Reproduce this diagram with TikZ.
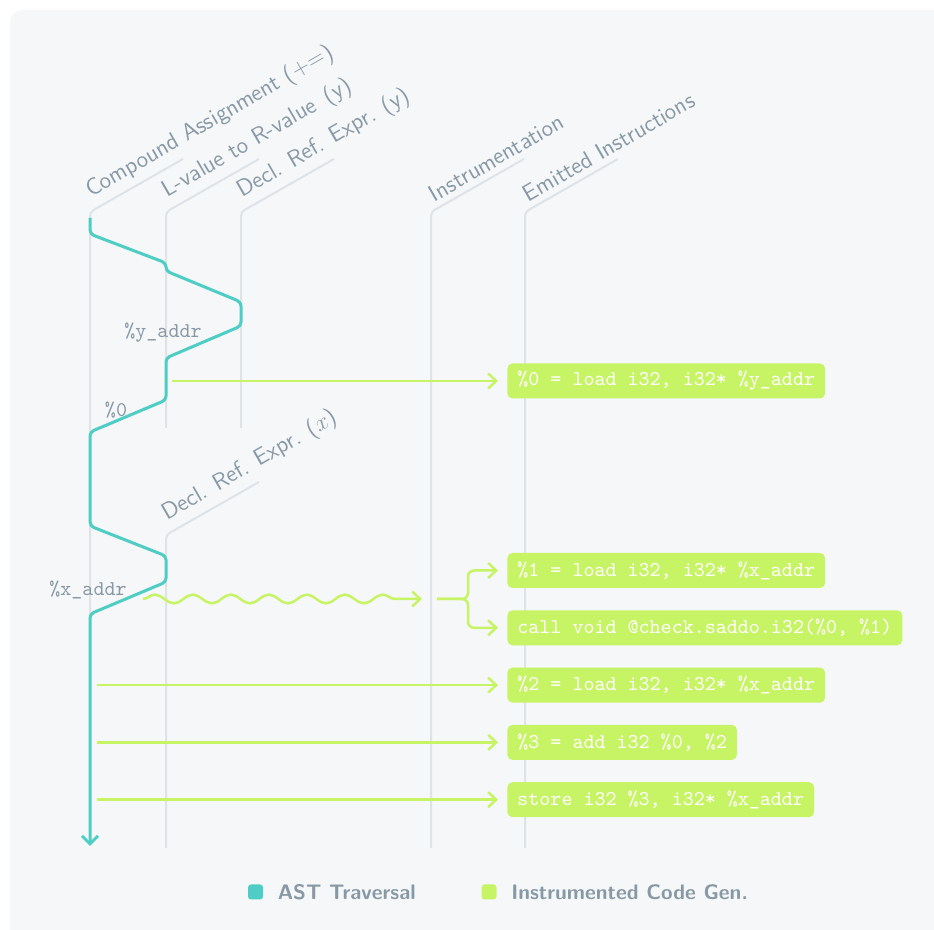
\documentclass[tikz,border=0pt]{standalone}
\usetikzlibrary{positioning, arrows.meta, decorations.pathmorphing}
\definecolor{bgcol}{HTML}{F5F7F9}
\definecolor{lifecol}{HTML}{DEE3E7}
\definecolor{labcol}{HTML}{8899A6}
\definecolor{astcol}{HTML}{4ECDC4}
\definecolor{gencol}{HTML}{C7F464}
\begin{document}
\begin{tikzpicture}[x=0.5pt, y=-0.5pt,
     node distance = 10.75pt and 7pt,
   lifeline/.style = {draw=lifecol, line width=1pt, rounded corners=2pt},
       head/.style = {rotate=30, anchor=south west, inner sep=4pt, text=labcol,
                      font=\fontsize{11.7}{13}\selectfont\sffamily},
        ast/.style = {draw=astcol, line width=1.5pt, rounded corners=2pt,
                      -{Straight Barb[length=4pt,width=8pt]}},
        gen/.style = {draw=gencol, line width=1.25pt, shorten >=4.5pt,
                      -{Straight Barb[length=4pt,width=7.5pt]}},
       code/.style = {rectangle, rounded corners=2.5pt, fill=gencol, text=white,
                      minimum height=17.5pt, inner xsep=5pt, inner ysep=0pt, anchor=west,
                      font=\fontsize{10.5}{12}\selectfont\ttfamily},
        val/.style = {text=labcol, inner sep=1pt, font=\fontsize{10.5}{12}\selectfont\ttfamily},
     swatch/.style = {rectangle, rounded corners=1.5pt, minimum size=7.5pt, inner sep=0pt},
     legend/.style = {inner sep=0pt, text=labcol,
                      font=\fontsize{10.5}{12}\selectfont\sffamily\bfseries}
                    ]
\useasboundingbox (0,0) rectangle (934,930);
\fill[bgcol, rounded corners=6pt] (10,10) rectangle (960,960);

\draw[lifeline] (90,845) -- (90,212) -- ++(93,-53);
\draw[lifeline] (166,428) -- (166,212) -- ++(93,-53);
\draw[lifeline] (241,428) -- (241,212) -- ++(93,-53);
\draw[lifeline] (166,848) -- (166,535) -- ++(93,-53);
\draw[lifeline] (431,848) -- (431,212) -- ++(93,-53);
\draw[lifeline] (525,848) -- (525,212) -- ++(93,-53);
\node (hCmp)   [head] at (91,214)  {Compound Assignment (+=)};
\node (hLval)  [head] at (167,214) {L-value to R-value~\,(y)};
\node (hDeclY) [head] at (242,214) {Decl. Ref. Expr. (y)};
\node (hDeclX) [head] at (167,537) {Decl. Ref. Expr. ($x$)};
\node (hInstr) [head] at (432,214) {Instrumentation};
\node (hEmit)  [head] at (526,214) {Emitted Instructions};

\draw[ast] (90,218) -- (90,234) -- (166,263) -- (166,271) -- (241,302) -- (241,326)
   -- (166,358) -- (166,400) -- (90,432) -- (90,526) -- (166,556) -- (166,582)
   -- (90,614) -- (90,846);
\node (vY)  [val] at (163,333) {\%y\_addr};
\node (v0)  [val] at (116,410) {\%0};
\node (vX)  [val] at (88,590)  {\%x\_addr};

\node (c0) [code] at (507,381) {\%0 = load i32, i32* \%y\_addr};
\node (c1) [code] at (507,570.5) {\%1 = load i32, i32* \%x\_addr};
\node (c2) [code, below=of c1.south west, anchor=north west] {call void @check.saddo.i32(\%0, \%1)};
\node (c3) [code, below=of c2.south west, anchor=north west] {\%2 = load i32, i32* \%x\_addr};
\node (c4) [code, below=of c3.south west, anchor=north west] {\%3 = add i32 \%0, \%2};
\node (c5) [code, below=of c4.south west, anchor=north west] {store i32 \%3, i32* \%x\_addr};

\coordinate (g0) at (172,381);
\coordinate (w0) at (143,599);
\coordinate (w1) at (431,599);
\coordinate (fk) at (437,599);
\coordinate (br) at (468,599);
\coordinate (g3) at (97,0 |- c3.west);
\coordinate (g4) at (97,0 |- c4.west);
\coordinate (g5) at (97,0 |- c5.west);
\draw[gen] (g0) -- (c0.west);
\draw[gen, decorate, decoration={snake, segment length=19pt, amplitude=2.2pt, post length=10pt}] (w0) -- (w1);
\draw[gen, rounded corners=3pt] (fk) -- (br) |- (c1.west);
\draw[gen, rounded corners=3pt] (fk) -- (br) |- (c2.west);
\draw[gen] (g3) -- (c3.west);
\draw[gen] (g4) -- (c4.west);
\draw[gen] (g5) -- (c5.west);

\node (lgA)  [swatch, fill=astcol] at (255.5,892) {};
\node (lgAt) [legend, right=of lgA] {AST Traversal};
\node (lgB)  [swatch, fill=gencol, right=32.5pt of lgAt] {};
\node (lgBt) [legend, right=of lgB] {Instrumented Code Gen.};
\end{tikzpicture}
\end{document}
